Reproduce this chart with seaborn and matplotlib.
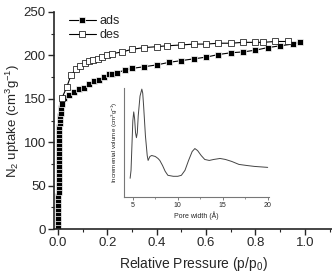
import seaborn as sns
import pandas as pd
import matplotlib.pyplot as plt
from matplotlib.ticker import MultipleLocator

# adsorption branch
ads_p = [0.0002, 0.0004, 0.0006, 0.0008, 0.001, 0.0012, 0.0014, 0.0016, 0.0018, 0.002,
         0.0022, 0.0024, 0.0026, 0.0028, 0.003, 0.0032, 0.0034, 0.0036, 0.0038, 0.004,
         0.0043, 0.0046, 0.005, 0.0055, 0.006, 0.007, 0.008, 0.01, 0.013, 0.017,
         0.024, 0.044, 0.065, 0.085, 0.105, 0.125, 0.145, 0.165,
         0.185, 0.206, 0.22, 0.24, 0.27, 0.30, 0.35, 0.40, 0.45, 0.50, 0.55, 0.60,
         0.65, 0.70, 0.75, 0.80, 0.85, 0.90, 0.95, 0.98]
ads_v = [3, 8, 13, 18, 23, 28, 33, 38, 43, 48,
         53, 58, 63, 68, 73, 78, 83, 88, 93, 98,
         103, 108, 113, 118, 122, 126, 130, 134, 139, 144,
         151, 154, 158, 161, 163, 167, 170, 172,
         175, 178, 178, 180, 183, 185, 187, 189, 192, 194, 196, 198,
         201, 203, 204, 206, 209, 211, 213, 215]

# desorption branch
des_p = [0.016, 0.036, 0.052, 0.073, 0.089, 0.109, 0.125, 0.141, 0.161, 0.177, 0.198,
         0.22, 0.26, 0.30, 0.35, 0.40, 0.44, 0.50, 0.55, 0.60, 0.65, 0.70, 0.75, 0.80,
         0.83, 0.88, 0.93]
des_v = [151, 164, 177, 184, 188, 191, 193, 195, 196, 198, 200, 202, 204, 207, 209,
         210, 211, 212, 213, 213, 214, 214, 215, 215, 215, 216, 216]

# pore size distribution (inset)
pore_w = [4.7, 4.8, 4.9, 5.0, 5.1, 5.2, 5.3, 5.4, 5.5, 5.6, 5.8, 6.0, 6.1, 6.2, 6.4,
          6.6, 6.7, 6.9, 7.1, 7.5, 7.8, 8.0, 8.3, 8.6, 8.9, 9.5, 10.0, 10.4, 10.8,
          11.2, 11.6, 11.9, 12.2, 12.6, 13.0, 13.5, 14.0, 14.7, 15.3, 16.0, 16.8,
          17.6, 18.5, 20.0]
pore_v = [22, 30, 55, 80, 89, 82, 68, 63, 68, 85, 105, 112, 108, 95, 65,
          45, 40, 44, 45, 44, 42, 40, 35, 29, 25, 24, 24, 25, 30,
          40, 49, 52, 50, 45, 41, 40, 41, 42, 41, 39, 36,
          35, 34, 33]

sns.set_style('ticks')
plt.rcParams['font.family'] = ['Liberation Sans', 'DejaVu Sans']
plt.rcParams['mathtext.default'] = 'regular'

ads = pd.DataFrame({'p': ads_p, 'v': ads_v})
des = pd.DataFrame({'p': des_p, 'v': des_v})
psd = pd.DataFrame({'w': pore_w, 'v': pore_v})

fig = plt.figure(figsize=(3.32, 2.78), dpi=100)
ax = fig.add_axes([0.163, 0.176, 0.837, 0.781])

sns.lineplot(x='p', y='v', data=ads, ax=ax, color='black', lw=0.8, marker='s',
             markersize=4, markeredgewidth=0.5, label='ads', sort=False)
sns.lineplot(x='p', y='v', data=des, ax=ax, color='black', lw=0.8, marker='s',
             markersize=4, markerfacecolor='white', markeredgecolor='black',
             markeredgewidth=0.5, label='des', sort=False)

ax.set_xlim(-0.016, 1.11)
ax.set_ylim(0, 250)
ax.xaxis.set_major_locator(MultipleLocator(0.2))
ax.xaxis.set_minor_locator(MultipleLocator(0.1))
ax.yaxis.set_major_locator(MultipleLocator(50))
ax.yaxis.set_minor_locator(MultipleLocator(25))
ax.tick_params(which='major', length=4, width=1, labelsize=9.5, pad=2)
ax.tick_params(which='minor', length=2, width=0.8)
ax.xaxis.set_major_formatter(plt.FuncFormatter(lambda v, _: f'{v:.1f}'))
for s in ['top', 'right']:
    ax.spines[s].set_visible(False)
for s in ['left', 'bottom']:
    ax.spines[s].set_linewidth(1.2)
ax.set_xlabel('Relative Pressure (p/p$_0$)', fontsize=10, labelpad=4)
ax.set_ylabel('N$_2$ uptake (cm$^3$g$^{-1}$)', fontsize=9.5, labelpad=1)
ax.legend(loc='upper left', frameon=False, fontsize=9, handlelength=2.2,
          handletextpad=0.3, labelspacing=0.15, borderaxespad=0.2, numpoints=1,
          bbox_to_anchor=(0.025, 1.02))

# inset
ins = fig.add_axes([0.373, 0.291, 0.436, 0.392])
sns.lineplot(x='w', y='v', data=psd, ax=ins, color='#444444', lw=0.7)
ins.set_xlim(4, 20.1)
ins.set_ylim(3, 113)
ins.set_yticks([])
ins.xaxis.set_major_locator(MultipleLocator(5))
ins.xaxis.set_minor_locator(MultipleLocator(2.5))
ins.tick_params(which='major', length=2.5, width=0.6, labelsize=5, pad=1, color='#666666')
ins.tick_params(which='minor', length=1.5, width=0.5, color='#666666')
for s in ['top', 'right']:
    ins.spines[s].set_visible(False)
for s in ['left', 'bottom']:
    ins.spines[s].set_color('#777777')
    ins.spines[s].set_linewidth(0.8)
ins.set_xlabel('Pore width (Å)', fontsize=5, labelpad=1.5)
ins.set_ylabel('Incremental volume (cm$^3$g$^{-1}$)', fontsize=4.5, labelpad=3)
ins.patch.set_alpha(0)

fig.savefig('out.png', dpi=100)
